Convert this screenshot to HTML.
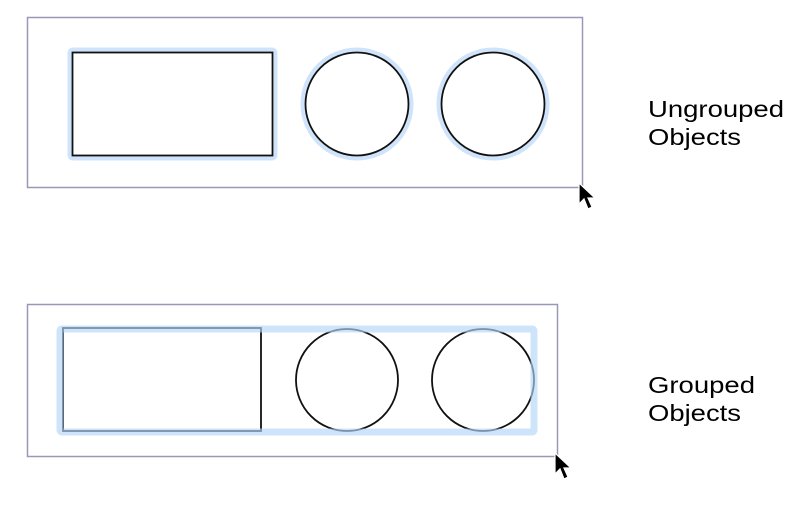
<!DOCTYPE html>
<html><head><meta charset="utf-8"><style>
html,body{margin:0;padding:0;background:#fff;width:810px;height:510px;overflow:hidden}
</style></head><body>
<svg width="810" height="510" viewBox="0 0 810 510" xmlns="http://www.w3.org/2000/svg">
  <g>
    <rect x="27.5" y="17.5" width="555" height="170" fill="none" stroke="#9a98b8" stroke-width="1.5"/>
    <rect x="70" y="50" width="205" height="108" rx="3" fill="none" stroke="#cfe4fb" stroke-width="5"/>
    <rect x="72.5" y="52.5" width="200" height="103" fill="#fff" stroke="#111" stroke-width="1.8"/>
    <circle cx="357" cy="104" r="54" fill="none" stroke="#cfe4fb" stroke-width="5"/>
    <circle cx="357" cy="104" r="51.5" fill="#fff" stroke="#111" stroke-width="1.8"/>
    <circle cx="493" cy="104" r="54" fill="none" stroke="#cfe4fb" stroke-width="5"/>
    <circle cx="493" cy="104" r="51.5" fill="#fff" stroke="#111" stroke-width="1.8"/>
    <path d="M579 183 L579 204 L584 199 L588 209 L592 207 L588 198 L595 198 Z" fill="#000" stroke="#fff" stroke-width="1.2"/>
    <text x="648" y="117" font-family="Liberation Sans, sans-serif" font-size="23" textLength="136" lengthAdjust="spacingAndGlyphs" fill="#000">Ungrouped</text>
    <text x="648" y="145" font-family="Liberation Sans, sans-serif" font-size="23" textLength="93" lengthAdjust="spacingAndGlyphs" fill="#000">Objects</text>
  </g>
  <g>
    <rect x="27.5" y="304.5" width="530" height="152" fill="none" stroke="#9a98b8" stroke-width="1.5"/>
    <rect x="63" y="328" width="198" height="103" fill="#fff" stroke="#111" stroke-width="1.8"/>
    <circle cx="347" cy="380" r="51" fill="#fff" stroke="#111" stroke-width="1.8"/>
    <circle cx="483" cy="380" r="51" fill="#fff" stroke="#111" stroke-width="1.8"/>
    <rect x="60" y="329" width="474" height="103" rx="2" fill="none" stroke="#b4d5f8" stroke-opacity="0.65" stroke-width="7"/>
    <path d="M555 453 L555 474 L560 469 L564 479 L568 477 L564 468 L571 468 Z" fill="#000" stroke="#fff" stroke-width="1.2"/>
    <text x="648" y="393" font-family="Liberation Sans, sans-serif" font-size="23" textLength="107" lengthAdjust="spacingAndGlyphs" fill="#000">Grouped</text>
    <text x="648" y="421" font-family="Liberation Sans, sans-serif" font-size="23" textLength="93" lengthAdjust="spacingAndGlyphs" fill="#000">Objects</text>
  </g>
</svg>
</body></html>
